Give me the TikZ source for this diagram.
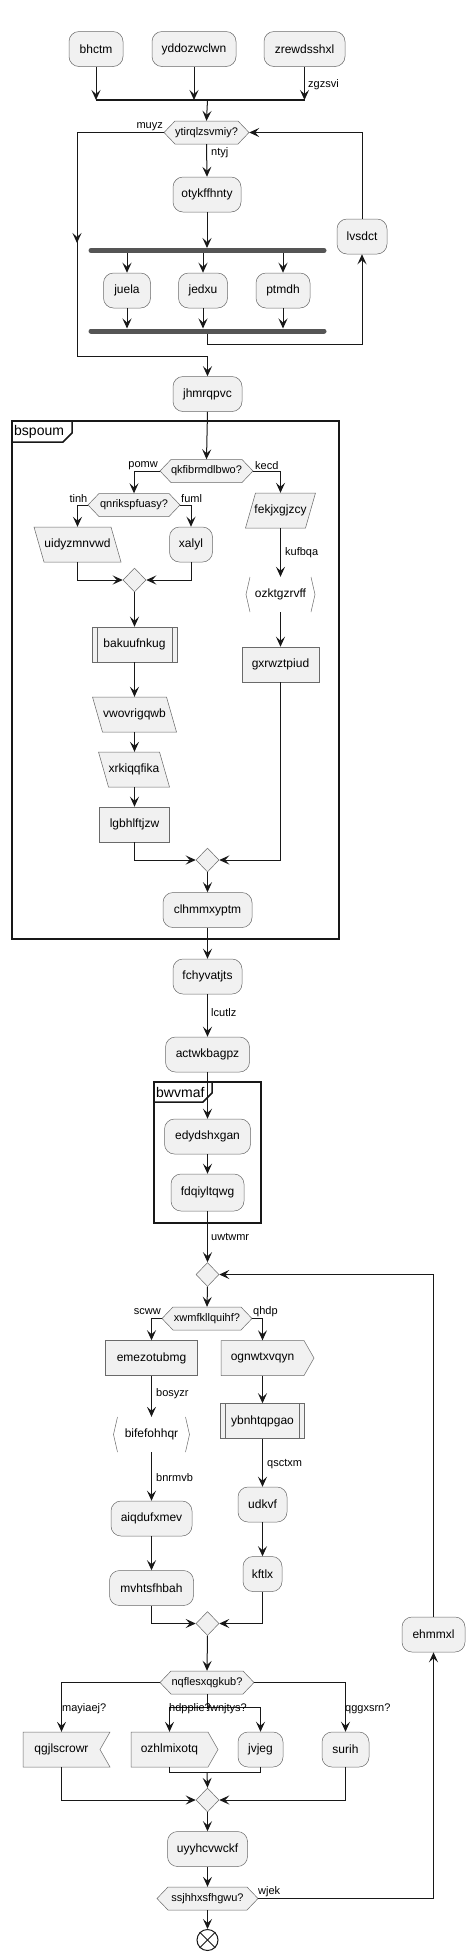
\documentclass[tikz,border=0pt]{standalone}
\usepackage{fontspec}
\setmainfont{Liberation Sans}
\usetikzlibrary{arrows.meta,shapes.geometric}
\definecolor{lc}{HTML}{181818}
\definecolor{nb}{HTML}{6A6A6A}
\definecolor{fc}{HTML}{F1F1F1}
\definecolor{bc}{HTML}{555555}
\tikzset{
  box/.style={draw=nb, line width=0.5pt, fill=fc, inner sep=0pt, minimum height=35pt, font=\fontsize{12}{14}\selectfont, text=black},
  act/.style={box, rounded corners=10pt},
  rbox/.style={box},
  ghost/.style={inner sep=0pt, minimum height=35pt, font=\fontsize{12}{14}\selectfont, text=black},
  shp/.style={draw=nb, line width=0.5pt, fill=fc},
  lab/.style={font=\fontsize{11}{13}\selectfont, inner sep=0pt, text=black},
  grp/.style={font=\fontsize{14}{16}\selectfont, inner sep=0pt, text=black},
  frame/.style={draw=lc, line width=1.5pt},
  conn/.style={draw=lc, line width=1pt, -{Stealth[length=10pt,width=9pt,inset=4pt]}},
  plain/.style={draw=lc, line width=1pt},
  fbar/.style={draw=bc, line width=5pt, line cap=round},
}
% decision hexagon: name, x, y, width, text
\newcommand\hexnode[5]{%
  \draw[shp] ({#2-#4/2},#3) -- ({#2-#4/2+11},{#3-11.5}) -- ({#2+#4/2-11},{#3-11.5}) -- ({#2+#4/2},#3) -- ({#2+#4/2-11},{#3+11.5}) -- ({#2-#4/2+11},{#3+11.5}) -- cycle;
  \node[ghost, minimum width=#4pt, minimum height=23pt, font=\fontsize{11}{13}\selectfont] (#1) at (#2,#3) {#5};}
% parallelogram: name, x, y, width, d (+1 top right, -1 top left), text
\newcommand\paranode[6]{%
  \draw[shp] ({#2-#4/2+5+5*#5},{#3-17.5}) -- ({#2+#4/2-5+5*#5},{#3-17.5}) -- ({#2+#4/2-5-5*#5},{#3+17.5}) -- ({#2-#4/2+5-5*#5},{#3+17.5}) -- cycle;
  \node[ghost, minimum width=#4pt] (#1) at (#2,#3) {#6};}
% subroutine box
\newcommand\subrnode[5]{%
  \node[rbox, minimum width=#4pt] (#1) at (#2,#3) {#5};
  \draw[draw=nb, line width=0.5pt] ({#2-#4/2+5},{#3-17.5}) -- ({#2-#4/2+5},{#3+17.5});
  \draw[draw=nb, line width=0.5pt] ({#2+#4/2-5},{#3-17.5}) -- ({#2+#4/2-5},{#3+17.5});}
% bracket shape
\newcommand\bracknode[5]{%
  \draw[draw=nb, line width=0.5pt] ({#2-#4/2+4},{#3-17.5}) -- ({#2-#4/2},#3) -- ({#2-#4/2+4},{#3+17.5});
  \draw[draw=nb, line width=0.5pt] ({#2+#4/2-4},{#3-17.5}) -- ({#2+#4/2},#3) -- ({#2+#4/2-4},{#3+17.5});
  \node[ghost, minimum width=#4pt] (#1) at (#2,#3) {#5};}
% send shape: body centred at x with width w, point 10 further right
\newcommand\sendnode[5]{%
  \draw[shp] ({#2-#4/2},{#3-17.5}) -- ({#2+#4/2},{#3-17.5}) -- ({#2+#4/2+10},#3) -- ({#2+#4/2},{#3+17.5}) -- ({#2-#4/2},{#3+17.5}) -- cycle;
  \node[ghost, minimum width=#4pt] (#1) at (#2,#3) {#5};}
% receive shape: body centred at x width w, notch 10 deep on the right
\newcommand\recvnode[5]{%
  \draw[shp] ({#2-#4/2},{#3-17.5}) -- ({#2+#4/2+10},{#3-17.5}) -- ({#2+#4/2},#3) -- ({#2+#4/2+10},{#3+17.5}) -- ({#2-#4/2},{#3+17.5}) -- cycle;
  \node[ghost, minimum width=#4pt] (#1) at (#2,#3) {#5};}
\newcommand\mergenode[3]{%
  \node[diamond, draw=nb, line width=0.5pt, fill=fc, inner sep=0pt, minimum width=23pt, minimum height=24pt] (#1) at (#2,#3) {};}
\begin{document}
\begin{tikzpicture}[x=1pt,y=-1pt]
\useasboundingbox[fill=white] (0,0) rectangle (475,1960);
% groups
\draw[frame] (12,421) rectangle (339,939);
\draw[frame] (12,442) -- (63,442) -- (72,433) -- (72,421);
\node[grp, anchor=west] (g1) at (14,431.5) {bspoum};
\draw[frame] (154,1082) rectangle (261,1223);
\draw[frame] (154,1102) -- (203,1102) -- (212,1093) -- (212,1082);
\node[grp, anchor=west] (g2) at (156,1092) {bwvmaf};
% top
\node[act, minimum width=54pt] (bhc) at (96,49) {bhctm};
\node[act, minimum width=84pt] (ydd) at (194,49) {yddozwclwn};
\node[act, minimum width=81pt] (zre) at (304.5,49) {zrewdsshxl};
\draw[draw=lc, line width=2pt] (96,100) -- (305,100);
\coordinate (j1) at (207.5,100);
\hexnode{dec1}{206.5}{132.5}{85}{ytirqlzsvmiy?}
\node[act, minimum width=68pt] (oty) at (207,194.5) {otykffhnty};
\draw[fbar] (91,250.5) -- (324,250.5);
\coordinate (f1a) at (207,248);
\coordinate (f1b) at (207,253);
\node[act, minimum width=47pt] (jue) at (127,290.5) {juela};
\node[act, minimum width=49pt] (jed) at (203,290.5) {jedxu};
\node[act, minimum width=54pt] (ptm) at (283,290.5) {ptmdh};
\draw[fbar] (91,331) -- (324,331);
\coordinate (f2a) at (207,328.5);
\coordinate (f2b) at (207,333.5);
\node[act, minimum width=50pt] (lvs) at (362,236.5) {lvsdct};
\node[act, minimum width=69pt] (jhm) at (207.5,394) {jhmrqpvc};
% bspoum contents
\hexnode{dec2}{206.5}{471}{93}{qkfibrmdlbwo?}
\hexnode{dec3}{134}{505}{92}{qnrikspfuasy?}
\paranode{uid}{77.5}{544.5}{87}{-1}{uidyzmnvwd}
\node[act, minimum width=43pt] (xal) at (191,544.5) {xalyl};
\mergenode{m1}{134.5}{580}
\subrnode{bak}{134.5}{644.5}{85}{bakuufnkug}
\paranode{vwo}{134.5}{714.5}{84}{-1}{vwovrigqwb}
\paranode{xrk}{134}{769.5}{71}{-1}{xrkiqqfika}
\node[rbox, minimum width=70pt] (lgb) at (134.5,824.5) {lgbhlftjzw};
\paranode{fek}{280.5}{510.5}{70}{1}{fekjxgjzcy}
\bracknode{ozk}{280.5}{594.5}{69}{ozktgzrvff}
\node[rbox, minimum width=77pt] (gxr) at (280.5,664.5) {gxrwztpiud};
\mergenode{m2}{207.5}{860}
\node[act, minimum width=89pt] (clh) at (207.5,910) {clhmmxyptm};
% middle
\node[act, minimum width=69pt] (fch) at (207.5,976.5) {fchyvatjts};
\node[act, minimum width=84pt] (actw) at (207.5,1054.5) {actwkbagpz};
\node[act, minimum width=86pt] (edy) at (207.5,1136.5) {edydshxgan};
\node[act, minimum width=73pt, minimum height=37pt] (fdq) at (207.5,1192.5) {fdqiyltqwg};
\mergenode{m3}{207.5}{1274.5}
\hexnode{dec4}{207}{1318.5}{90}{xwmfkllquihf?}
\node[rbox, minimum width=92pt] (emz) at (151.5,1358) {emezotubmg};
\sendnode{ogn}{262.5}{1358}{83}{ognwtxvqyn}
\bracknode{bif}{151.5}{1434.5}{76}{bifefohhqr}
\node[act, minimum width=81pt] (aiq) at (151.5,1518.5) {aiqdufxmev};
\node[act, minimum width=84pt] (mvh) at (151.5,1588) {mvhtsfhbah};
\subrnode{ybn}{262.5}{1421}{84}{ybnhtqpgao}
\node[act, minimum width=49pt] (udk) at (262.5,1504.5) {udkvf};
\node[act, minimum width=39pt] (kft) at (262.5,1574) {kftlx};
\mergenode{m4}{207.5}{1623.5}
\node[act, minimum width=63pt] (ehm) at (433.5,1634.5) {ehmmxl};
\hexnode{dec5}{207}{1682.5}{94}{nqflesxqgkub?}
\recvnode{qgj}{61.5}{1749.5}{77}{qgjlscrowr}
\sendnode{ozh}{169.5}{1749.5}{77}{ozhlmixotq}
\node[act, minimum width=45pt] (jvj) at (260.5,1749.5) {jvjeg};
\node[act, minimum width=47pt] (sur) at (345.5,1749.5) {surih};
\mergenode{m5}{207.5}{1800}
\node[act, minimum width=80pt] (uyy) at (207.5,1849) {uyyhcvwckf};
\hexnode{dec6}{207.5}{1898.5}{101}{ssjhhxsfhgwu?}
\node[circle, draw=lc, line width=1pt, fill=white, minimum size=21pt, inner sep=0pt] (endn) at (207.5,1940) {};
\draw[draw=lc, line width=1pt] (endn.north east) -- (endn.south west);
\draw[draw=lc, line width=1pt] (endn.north west) -- (endn.south east);
\coordinate (sp) at (207,1707);
\coordinate (jn) at (207,1772);
% connectors
\draw[conn] (bhc.south) -- (bhc.south |- j1);
\draw[conn] (ydd.south) -- (ydd.south |- j1);
\draw[conn] (zre.south) -- (zre.south |- j1);
\node[lab, anchor=west] (lzg) at (308,84.5) {zgzsvi};
\draw[conn] (j1) -- (dec1.north);
\draw[conn] (dec1.south) -- (oty.north);
\node[lab, anchor=west] (lnt) at (211,152.5) {ntyj};
\draw[conn] (oty.south) -- (f1a);
\draw[conn] (jue.north |- f1b) -- (jue.north);
\draw[conn] (jed.north |- f1b) -- (jed.north);
\draw[conn] (ptm.north |- f1b) -- (ptm.north);
\draw[conn] (jue.south) -- (jue.south |- f2a);
\draw[conn] (jed.south) -- (jed.south |- f2a);
\draw[conn] (ptm.south) -- (ptm.south |- f2a);
\draw[conn] (f2b) -- ++(0,10.5) -| (lvs.south);
\draw[conn] (lvs.north) |- (dec1.east);
\draw[conn] (dec1.west) -| (77,356) -| (jhm.north);
\draw[conn] (77,233) -- (77,243);
\node[lab, anchor=east] (lmu) at (163,127) {muyz};
\draw[conn] (jhm.south) -- (dec2.north);
\draw[conn] (dec2.west) -| (dec3.north);
\node[lab, anchor=east] (lpo) at (158,465.5) {pomw};
\draw[conn] (dec2.east) -| (fek.north);
\node[lab, anchor=west] (lke) at (255,465.5) {kecd};
\draw[conn] (dec3.west) -| (uid.north);
\node[lab, anchor=east] (lti) at (87.5,499) {tinh};
\draw[conn] (dec3.east) -| (xal.north);
\node[lab, anchor=west] (lfu) at (181,499) {fuml};
\draw[conn] (uid.south) |- (m1.west);
\draw[conn] (xal.south) |- (m1.east);
\draw[conn] (m1.south) -- (bak.north);
\draw[conn] (bak.south) -- (vwo.north);
\draw[conn] (vwo.south) -- (vwo.south |- xrk.north);
\draw[conn] (xrk.south -| lgb.north) -- (lgb.north);
\draw[conn] (fek.south) -- (ozk.north);
\node[lab, anchor=west] (lku) at (285,553) {kufbqa};
\draw[conn] (ozk.south) -- (gxr.north);
\draw[conn] (lgb.south) |- (m2.west);
\draw[conn] (gxr.south) |- (m2.east);
\draw[conn] (m2.south) -- (clh.north);
\draw[conn] (clh.south) -- (fch.north);
\draw[conn] (fch.south) -- (actw.north);
\node[lab, anchor=west] (llc) at (211,1013) {lcutlz};
\draw[conn] (actw.south) -- (edy.north);
\draw[conn] (edy.south) -- (fdq.north);
\draw[conn] (fdq.south) -- (m3.north);
\node[lab, anchor=west] (luw) at (211,1237) {uwtwmr};
\draw[conn] (m3.south) -- (dec4.north);
\draw[conn] (dec4.west) -| (emz.north);
\node[lab, anchor=east] (lsc) at (161,1312) {scww};
\draw[conn] (dec4.east) -| (ogn.north);
\node[lab, anchor=west] (lqh) at (253,1312) {qhdp};
\draw[conn] (emz.south) -- (bif.north);
\node[lab, anchor=west] (lbo) at (156,1394) {bosyzr};
\draw[conn] (bif.south) -- (aiq.north);
\node[lab, anchor=west] (lbn) at (156,1478) {bnrmvb};
\draw[conn] (aiq.south) -- (mvh.north);
\draw[conn] (ogn.south) -- (ybn.north);
\draw[conn] (ybn.south) -- (udk.north);
\node[lab, anchor=west] (lqs) at (267,1464) {qsctxm};
\draw[conn] (udk.south) -- (kft.north);
\draw[conn] (mvh.south) |- (m4.west);
\draw[conn] (kft.south) |- (m4.east);
\draw[conn] (m4.south) -- (dec5.north);
\draw[conn] (dec5.west) -| (qgj.north);
\node[lab, anchor=west] (lma) at (62,1709) {mayiaej?};
\draw[conn] (dec5.east) -| (sur.north);
\node[lab, anchor=west] (lqg) at (345,1709) {qggxsrn?};
\draw[plain] (dec5.south) -- (sp);
\draw[conn] (sp) -| (ozh.north);
\draw[conn] (sp) -| (jvj.north);
\node[lab, anchor=west] (lhd) at (169,1709) {hdpplie?};
\node[lab, anchor=east] (liw) at (247,1709) {iwnjtys?};
\draw[plain] (ozh.south) |- (jn);
\draw[plain] (jvj.south) |- (jn);
\draw[conn] (jn) -- (m5.north);
\draw[conn] (qgj.south) |- (m5.west);
\draw[conn] (sur.south) |- (m5.east);
\draw[conn] (m5.south) -- (uyy.north);
\draw[conn] (uyy.south) -- (dec6.north);
\draw[conn] (dec6.east) -| (ehm.south);
\node[lab, anchor=west] (lwj) at (258,1892) {wjek};
\draw[conn] (ehm.north) |- (m3.east);
\draw[conn] (dec6.south) -- (endn.north);
\end{tikzpicture}
\end{document}
